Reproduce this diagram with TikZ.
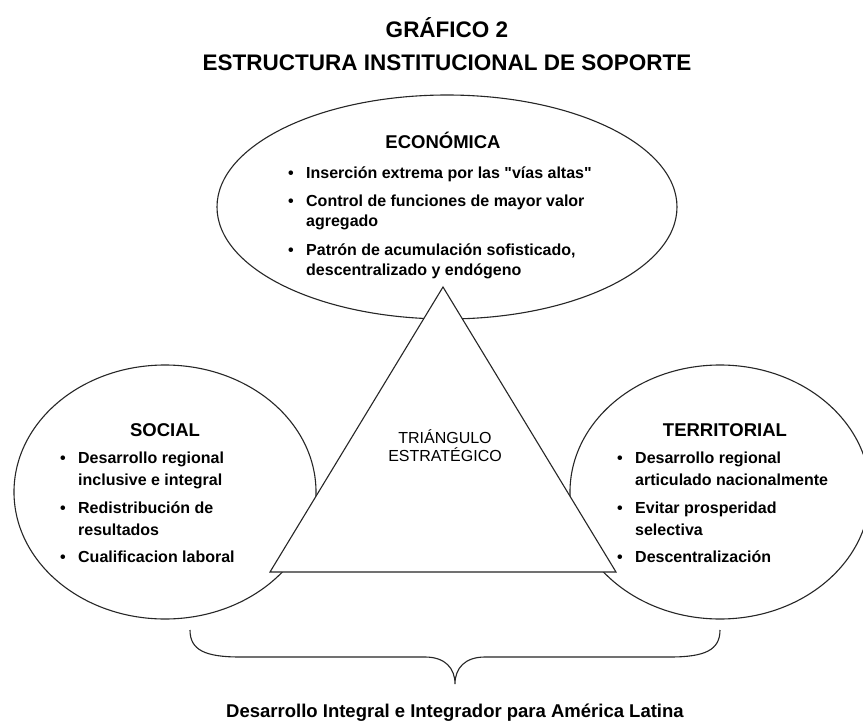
\documentclass[tikz,border=0pt]{standalone}
\usepackage{fontspec}
\setmainfont{Liberation Sans}
\begin{document}
\begin{tikzpicture}[x=1pt,y=-1pt,
  outline/.style={draw=black!85, line width=1.1pt},
  ttl/.style={font=\bfseries\fontsize{22.5}{26}\selectfont, anchor=base, inner sep=0},
  hd/.style={font=\bfseries\fontsize{18.5}{22}\selectfont, anchor=base, inner sep=0},
  itm/.style={font=\bfseries\fontsize{16}{20}\selectfont, anchor=base west, inner sep=0},
  tri/.style={font=\fontsize{16}{20}\selectfont, anchor=base, inner sep=0},
  foot/.style={font=\bfseries\fontsize{18.5}{22}\selectfont, anchor=base, inner sep=0},
]
\newcommand{\bl}{\llap{\textbullet\hspace{12.5pt}}}
\useasboundingbox[fill=white] (0,0) rectangle (863,723);

% titles
\node[ttl] (t1) at (447,37) {GRÁFICO 2};
\node[ttl] (t2) at (447,70) {ESTRUCTURA INSTITUCIONAL DE SOPORTE};

% ellipses
\draw[outline] (447,207) ellipse [x radius=230pt, y radius=112pt];
\draw[outline] (165,492) ellipse [x radius=151pt, y radius=127pt];
\draw[outline] (720,492) ellipse [x radius=150pt, y radius=127pt];

% triangle
\draw[outline, fill=white, line join=miter] (443,287) -- (616,572) -- (270,572) -- cycle;

% economic
\node[hd] (eh) at (443,148.5) {ECONÓMICA};
\node[itm] (e1) at (306,178) {\bl Inserción extrema por las \textquotedbl vías altas\textquotedbl};
\node[itm] (e2) at (306,206.5) {\bl Control de funciones de mayor valor};
\node[itm] (e3) at (306,226.5) {agregado};
\node[itm] (e4) at (306,255) {\bl Patrón de acumulación sofisticado,};
\node[itm] (e5) at (306,275) {descentralizado y endógeno};

% social
\node[hd] (sh) at (165,436.5) {SOCIAL};
\node[itm] (s1) at (78,463.5) {\bl Desarrollo regional};
\node[itm] (s2) at (78,485) {inclusive e integral};
\node[itm] (s3) at (78,513.5) {\bl Redistribución de};
\node[itm] (s4) at (78,535) {resultados};
\node[itm] (s5) at (78,562.5) {\bl Cualificacion laboral};

% territorial
\node[hd] (rh) at (725,436.5) {TERRITORIAL};
\node[itm] (r1) at (635,463.5) {\bl Desarrollo regional};
\node[itm] (r2) at (635,485) {articulado nacionalmente};
\node[itm] (r3) at (635,513.5) {\bl Evitar prosperidad};
\node[itm] (r4) at (635,535) {selectiva};
\node[itm] (r5) at (635,562.5) {\bl Descentralización};

% triangle label
\node[tri] (tr1) at (445,443) {TRIÁNGULO};
\node[tri] (tr2) at (445,461) {ESTRATÉGICO};

% brace
\coordinate (bL) at (190,630);
\coordinate (bR) at (720,630);
\coordinate (bT) at (455,684);
\draw[outline] (bL) .. controls (190,650) and (205,657) .. (240,657) -- (425,657)
  .. controls (445,657) and (455,668) .. (bT)
  .. controls (455,668) and (465,657) .. (485,657) -- (670,657)
  .. controls (705,657) and (720,650) .. (bR);

\node[foot] (ft) at (455,717) {Desarrollo Integral e Integrador para América Latina};
\end{tikzpicture}
\end{document}
